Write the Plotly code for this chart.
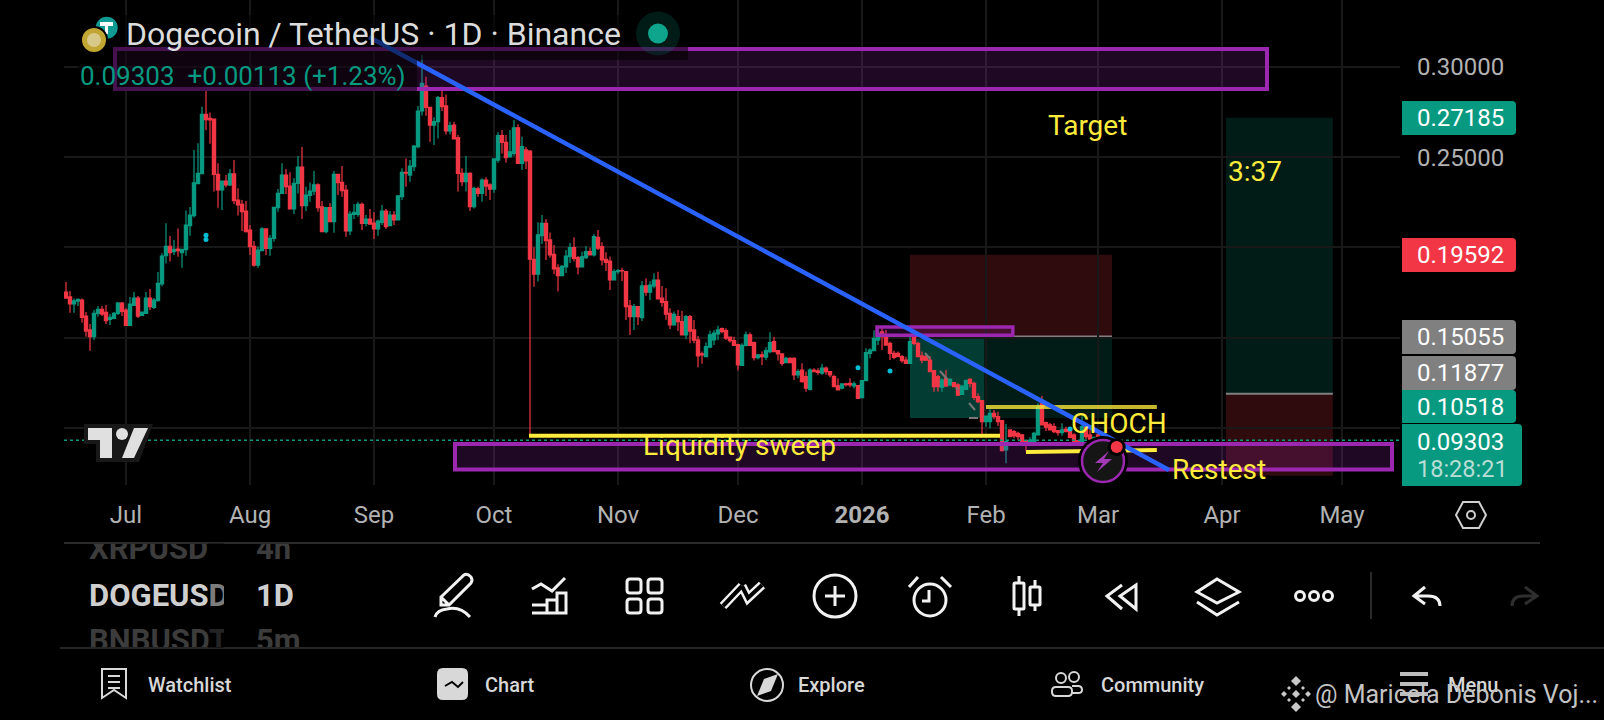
import pandas as pd
import plotly.graph_objects as go

# DOGEUSDT daily candles, first one is 16 Jun 2025
opens = [.1752,.1726,.1686,.1702,.1708,.1619,.1542,.1505,.1634,.1656,
         .1640,.1601,.1606,.1634,.1691,.1652,.1567,.1678,.1719,.1623,
         .1634,.1719,.1667,.1704,.1797,.1954,.2006,.1976,.1991,.1970,
         .1987,.2120,.2176,.2353,.2408,.2737,.2715,.2711,.2405,.2318,
         .2368,.2346,.2407,.2262,.2238,.2201,.2096,.2006,.1902,.1982,
         .2102,.1994,.2050,.2220,.2299,.2401,.2340,.2213,.2355,.2445,
         .2231,.2288,.2312,.2346,.2224,.2087,.2220,.2142,.2405,.2360,
         .2318,.2091,.2183,.2183,.2238,.2133,.2157,.2135,.2102,.2139,
         .2201,.2120,.2179,.2152,.2281,.2416,.2401,.2447,.2558,.2756,
         .2894,.2776,.2678,.2697,.2830,.2784,.2645,.2678,.2608,.2410,
         .2364,.2410,.2225,.2325,.2299,.2373,.2346,.2323,.2484,.2619,
         .2582,.2503,.2521,.2663,.2466,.2540,.2534,.1934,.1851,.2065,
         .2133,.2041,.1961,.1887,.1843,.1891,.1948,.1998,.1943,.1891,
         .1943,.1976,.1958,.2056,.2004,.1934,.1924,.1819,.1865,.1871,
         .1865,.1675,.1616,.1671,.1610,.1786,.1751,.1786,.1819,.1718,
         .1699,.1634,.1570,.1616,.1588,.1514,.1616,.1542,.1487,.1410,
         .1394,.1446,.1487,.1520,.1550,.1539,.1502,.1483,.1461,.1346,
         .1457,.1515,.1472,.1389,.1404,.1391,.1422,.1478,.1428,.1409,
         .1361,.1385,.1385,.1293,.1320,.1283,.1213,.1320,.1315,.1302,
         .1330,.1311,.1283,.1232,.1219,.1243,.1246,.1232,.1234,.1167,
         .1261,.1412,.1427,.1486,.1532,.1508,.1468,.1412,.1412,.1394,
         .1375,.1357,.1501,.1468,.1398,.1394,.1375,.1316,.1283,.1224,
         .1274,.1237,.1250,.1237,.1185,.1213,.1268,.1246,.1172,.1150,
         .1034,.1034,.1080,.1061,.1040,.0877,.0988,.0978,.0969,.0960,
         .0929,.0905,.0923,.0960,.1136,.1028,.1016,.1006,.0984,.0973,
         .0991,.0988,.0960,.0929,.0905,.1006,.0960,.0936,.0960,.0919]
highs = [.1808,.1758,.1717,.1717,.1717,.1641,.1575,.1652,.1675,.1675,
         .1680,.1630,.1641,.1697,.1697,.1663,.1725,.1752,.1730,.1641,
         .1752,.1769,.1719,.1863,.1967,.2133,.2063,.2041,.2105,.1991,
         .2205,.2224,.2540,.2577,.2780,.2874,.2748,.2711,.2466,.2368,
         .2401,.2434,.2484,.2327,.2262,.2257,.2124,.2035,.2004,.2111,
         .2105,.2068,.2225,.2323,.2466,.2434,.2416,.2383,.2506,.2556,
         .2336,.2360,.2423,.2355,.2257,.2221,.2246,.2423,.2405,.2451,
         .2346,.2201,.2240,.2253,.2248,.2179,.2213,.2194,.2155,.2235,
         .2213,.2201,.2201,.2290,.2438,.2493,.2484,.2567,.2784,.3066,
         .2946,.2776,.2721,.2839,.2891,.2848,.2697,.2697,.2623,.2438,
         .2506,.2416,.2336,.2336,.2383,.2388,.2355,.2490,.2638,.2650,
         .2623,.2650,.2706,.2682,.2613,.2556,.2540,.2000,.2139,.2180,
         .2157,.2083,.2013,.1906,.1902,.1986,.2024,.2056,.1952,.1976,
         .2006,.1998,.2074,.2096,.2028,.1973,.1949,.1878,.1880,.1887,
         .1865,.1708,.1686,.1675,.1814,.1828,.1814,.1856,.1865,.1786,
         .1773,.1662,.1644,.1653,.1647,.1625,.1625,.1597,.1509,.1422,
         .1472,.1537,.1542,.1565,.1555,.1552,.1505,.1505,.1465,.1468,
         .1533,.1528,.1478,.1404,.1422,.1446,.1529,.1505,.1431,.1413,
         .1394,.1391,.1391,.1324,.1357,.1311,.1330,.1330,.1330,.1354,
         .1339,.1311,.1293,.1274,.1246,.1250,.1274,.1256,.1237,.1265,
         .1441,.1440,.1541,.1541,.1560,.1542,.1477,.1427,.1422,.1403,
         .1394,.1505,.1510,.1477,.1422,.1403,.1397,.1316,.1292,.1274,
         .1320,.1274,.1250,.1246,.1237,.1268,.1274,.1255,.1191,.1154,
         .1065,.1102,.1098,.1089,.1040,.1021,.0991,.0988,.0978,.0965,
         .0932,.0947,.0978,.1136,.1176,.1034,.1028,.1025,.0988,.1025,
         .1006,.0997,.0969,.0932,.1062,.1015,.0988,.0947,.0978,.0935]
lows = [.1717,.1638,.1638,.1675,.1582,.1505,.1427,.1486,.1616,.1619,
        .1575,.1569,.1601,.1625,.1619,.1567,.1564,.1678,.1608,.1619,
        .1630,.1652,.1658,.1700,.1785,.1911,.1921,.1957,.1948,.1887,
        .1954,.2065,.2165,.2353,.2405,.2649,.2575,.2309,.2220,.2207,
        .2333,.2340,.2240,.2176,.2091,.2083,.1957,.1893,.1887,.1980,
        .1957,.1954,.2031,.2198,.2299,.2296,.2213,.2185,.2299,.2157,
        .2201,.2253,.2290,.2198,.2087,.2078,.2142,.2081,.2290,.2281,
        .2059,.2068,.2157,.2170,.2096,.2115,.2128,.2046,.2065,.2124,
        .2102,.2120,.2124,.2152,.2262,.2336,.2364,.2423,.2549,.2731,
        .2730,.2585,.2567,.2604,.2756,.2626,.2626,.2601,.2309,.2340,
        .2309,.2201,.2216,.2281,.2253,.2285,.2262,.2303,.2469,.2521,
        .2469,.2497,.2508,.2466,.2429,.2434,.0955,.1782,.1810,.2019,
        .1930,.1943,.1851,.1755,.1843,.1858,.1913,.1921,.1849,.1891,
        .1936,.1958,.1949,.1985,.1899,.1869,.1764,.1819,.1852,.1814,
        .1597,.1514,.1542,.1570,.1592,.1732,.1708,.1773,.1714,.1671,
        .1599,.1548,.1570,.1536,.1514,.1492,.1468,.1468,.1335,.1354,
        .1394,.1441,.1459,.1487,.1524,.1487,.1472,.1453,.1317,.1343,
        .1450,.1457,.1372,.1380,.1348,.1376,.1413,.1422,.1372,.1343,
        .1361,.1357,.1265,.1274,.1250,.1200,.1206,.1311,.1293,.1293,
        .1293,.1280,.1228,.1206,.1213,.1228,.1224,.1219,.1160,.1163,
        .1261,.1385,.1427,.1458,.1431,.1458,.1375,.1379,.1390,.1360,
        .1357,.1357,.1458,.1394,.1357,.1370,.1311,.1200,.1200,.1200,
        .1228,.1231,.1224,.1176,.1181,.1209,.1224,.1154,.1135,.0947,
        .1006,.0997,.1047,.1010,.0868,.0803,.0947,.0941,.0932,.0917,
        .0868,.0905,.0917,.0960,.1016,.0982,.0984,.0969,.0955,.0955,
        .0973,.0941,.0914,.0899,.0905,.0936,.0936,.0936,.0920,.0912]
closes = [.1719,.1686,.1704,.1712,.1612,.1536,.1505,.1634,.1656,.1630,
          .1593,.1612,.1634,.1691,.1645,.1567,.1686,.1719,.1619,.1641,
          .1719,.1671,.1708,.1800,.1952,.2006,.1970,.1989,.1982,.1989,
          .2124,.2179,.2357,.2410,.2737,.2708,.2706,.2405,.2318,.2368,
          .2346,.2407,.2259,.2235,.2198,.2087,.2004,.1902,.1985,.2102,
          .1994,.2050,.2222,.2299,.2401,.2336,.2213,.2355,.2445,.2231,
          .2290,.2312,.2346,.2220,.2087,.2220,.2142,.2405,.2359,.2314,
          .2091,.2185,.2194,.2238,.2133,.2157,.2129,.2102,.2146,.2201,
          .2115,.2179,.2152,.2285,.2416,.2412,.2451,.2562,.2756,.2909,
          .2776,.2678,.2697,.2830,.2780,.2645,.2675,.2601,.2410,.2364,
          .2410,.2225,.2327,.2299,.2373,.2340,.2323,.2490,.2619,.2582,
          .2497,.2530,.2663,.2466,.2558,.2479,.1934,.1851,.2069,.2133,
          .2037,.1958,.1880,.1843,.1895,.1952,.1998,.1939,.1891,.1948,
          .1976,.1958,.2059,.1995,.1930,.1917,.1819,.1865,.1871,.1869,
          .1671,.1616,.1671,.1616,.1786,.1751,.1791,.1819,.1714,.1695,
          .1629,.1570,.1629,.1588,.1514,.1616,.1536,.1486,.1398,.1404,
          .1450,.1515,.1524,.1542,.1533,.1496,.1483,.1457,.1348,.1457,
          .1515,.1457,.1389,.1404,.1394,.1428,.1472,.1422,.1409,.1357,
          .1385,.1361,.1293,.1311,.1256,.1219,.1320,.1311,.1306,.1330,
          .1311,.1293,.1228,.1210,.1243,.1239,.1237,.1243,.1163,.1261,
          .1416,.1431,.1495,.1523,.1505,.1458,.1412,.1390,.1394,.1372,
          .1357,.1477,.1468,.1394,.1375,.1375,.1311,.1228,.1228,.1264,
          .1231,.1268,.1228,.1181,.1231,.1261,.1246,.1168,.1144,.1034,
          .1065,.1080,.1061,.1034,.0873,.0923,.0951,.0955,.0951,.0923,
          .0905,.0932,.0969,.1113,.1016,.1003,.0988,.0978,.0973,.0988,
          .0979,.0947,.0914,.0905,.1006,.0951,.0936,.0947,.0941,.09303]
dates = pd.date_range("2025-06-16", periods=len(closes)).strftime("%Y-%m-%d").tolist()

month_ticks = ["2025-07-01", "2025-08-01", "2025-09-01", "2025-10-01", "2025-11-01", "2025-12-01",
               "2026-01-01", "2026-02-01", "2026-03-01", "2026-04-01", "2026-05-01"]
month_labels = ["Jul", "Aug", "Sep", "Oct", "Nov", "Dec", "<b>2026</b>", "Feb", "Mar", "Apr", "May"]
price_ticks = [.10, .15, .20, .25, .30]
price_labels = ["", "", "", "0.25000", "0.30000"]

signal_dates = ["2025-07-21", "2025-07-21", "2025-12-31", "2026-01-08", "2026-02-22"]
signal_prices = [.2067, .2043, .1332, .1315, .0993]

watch_names = ["XRPUSD", "DOGEUSDT", "BNBUSDT"]
watch_times = ["4h", "1D", "5m"]

TEAL = "#089981"
RED = "#f23645"
GRAY = "#808080"
PURPLE = "#9c27b0"
YELLOW = "#ffeb3b"
BLUE = "#2962ff"
ICON = "#f2f2f2"
NAV = "#d8d8d8"

shapes = []
notes = []


def data_rect(x0, x1, y0, y1, fill, line=None, width=0, layer="above"):
    shapes.append(dict(type="rect", xref="x", yref="y", x0=x0, x1=x1, y0=y0, y1=y1, layer=layer,
                       fillcolor=fill, line=dict(color=line, width=width)))


def data_line(x0, y0, x1, y1, color, width, dash="solid", layer="above"):
    shapes.append(dict(type="line", xref="x", yref="y", x0=x0, x1=x1, y0=y0, y1=y1, layer=layer,
                       line=dict(color=color, width=width, dash=dash)))


# everything below here is in screen pixels, on the x2/y2 overlay
def path(d, color=ICON, width=3, fill=None):
    shapes.append(dict(type="path", xref="x2", yref="y2", path=d, layer="above",
                       fillcolor=fill, line=dict(color=color, width=width)))


def circle(cx, cy, r, color=ICON, width=3, fill=None):
    shapes.append(dict(type="circle", xref="x2", yref="y2", x0=cx - r, x1=cx + r, y0=cy - r, y1=cy + r,
                       layer="above", fillcolor=fill, line=dict(color=color, width=width)))


def rrect(x0, y0, x1, y1, r):
    return (f"M{x0 + r},{y0} L{x1 - r},{y0} Q{x1},{y0} {x1},{y0 + r} L{x1},{y1 - r} Q{x1},{y1} {x1 - r},{y1} "
            f"L{x0 + r},{y1} Q{x0},{y1} {x0},{y1 - r} L{x0},{y0 + r} Q{x0},{y0} {x0 + r},{y0} Z")


def text(x, y, s, size, color, anchor="left", weight=None, family="Roboto"):
    notes.append(dict(xref="x2", yref="y2", x=x, y=y, text=s, showarrow=False, xanchor=anchor, yanchor="middle",
                      borderpad=0, borderwidth=0, font=dict(family=family, size=size, color=color, weight=weight)))


def badge(y0, y1, x1, fill):
    r = 4
    path(f"M1402,{y0} L{x1 - r},{y0} Q{x1},{y0} {x1},{y0 + r} L{x1},{y1 - r} Q{x1},{y1} {x1 - r},{y1} L1402,{y1} Z",
         color=fill, width=0, fill=fill)


# position tools, under the candles
data_rect("2026-01-13", "2026-03-04 12:00", .15055, .19592, "rgba(242,54,69,0.2)", layer="below")
data_rect("2026-01-13", "2026-03-04 12:00", .1054, .15055, "rgba(8,153,129,0.18)", layer="below")
data_rect("2026-01-13", "2026-01-31 12:00", .1054, .15055, "rgba(8,153,129,0.26)", layer="below")
data_rect("2026-04-02", "2026-04-28 17:00", .11877, .27185, "rgba(8,153,129,0.18)", layer="below")
data_rect("2026-04-02", "2026-04-28 17:00", .0733, .11877, "rgba(242,54,69,0.2)", layer="below")
data_line("2026-01-13", .15055, "2026-03-04 12:00", .15055, GRAY, 2, layer="below")
data_line("2026-04-02", .11877, "2026-04-28 17:00", .11877, GRAY, 2, layer="below")

# drawings on top of the candles
data_line("2025-06-15 12:00", .09303, "2026-05-15 12:00", .09303, TEAL, 1.5, dash="dot")
data_rect("2025-06-28 06:00", "2026-04-12 06:00", .2878, .3100, "rgba(156,39,176,0.2)", PURPLE, 4)
data_rect("2025-09-21 06:00", "2026-05-13 12:00", .0769, .0910, "rgba(156,39,176,0.2)", PURPLE, 4)
data_rect("2026-01-04 18:00", "2026-02-07 17:00", .1512, .1559, "rgba(156,39,176,0.2)", PURPLE, 3.5)
for seg in ["M925,353 L930,359", "M940,371 L947,379", "M956,387 L958,390", "M969,403 L975,410", "M969,418 L978,418"]:
    path(seg, color="#787878", width=2)
data_line("2025-10-09 18:00", .0955, "2026-02-04 12:00", .0955, YELLOW, 4)
data_line("2026-02-01", .1115, "2026-03-15 17:00", .1115, "rgba(255,235,59,0.78)", 4)
data_line("2026-02-11", .0866, "2026-03-15 17:00", .0877, YELLOW, 4)
data_line("2025-08-30 18:00", .3166, "2026-03-18 18:00", .0766, BLUE, 4.5)

# legend backdrop dims the drawings behind the title
path("M78,15 L688,15 L688,60 L417,60 L417,91 L78,91 Z", color="rgba(0,0,0,0)", width=0, fill="rgba(0,0,0,0.55)")

# coin logos and the status dot
circle(106.7, 27.7, 11, color="#0f9b94", width=0, fill="#0f9b94")
path("M100,22 L113,22 L113,26 L108,26 L108,34 L105,34 L105,26 L100,26 Z", color="#ffffff", width=0, fill="#ffffff")
circle(94, 40, 13, color="#000000", width=2, fill="#c2a633")
circle(94, 40, 7, color="#d8c88a", width=0, fill="#d8c88a")
circle(658, 33.5, 22, color="rgba(8,153,129,0.18)", width=0, fill="rgba(8,153,129,0.18)")
circle(658, 33.5, 10, color="#0ea58c", width=0, fill="#0ea58c")

# tradingview mark
path("M84,424 L153,424 L139,462 L96,462 L96,444 L84,444 Z", color="#181818", width=0, fill="#181818")
path("M88,428 L112,428 L112,458 L100,458 L100,440 L88,440 Z", color="#e0e0e0", width=0, fill="#e0e0e0")
circle(122, 434, 6, color="#e0e0e0", width=0, fill="#e0e0e0")
path("M134,428 L148,428 L134,458 L122,458 Z", color="#e0e0e0", width=0, fill="#e0e0e0")

# lightning button
circle(1103, 461, 25, color="#000000", width=0, fill="#000000")
circle(1103, 461, 21, color=PURPLE, width=2.5, fill="#151515")
path("M1109,451 L1095,463 L1103,463 L1097,472 L1112,459 L1104,459 Z", color="#a33ab5", width=0, fill="#a33ab5")
circle(1116.7, 447, 9, color="#000000", width=0, fill="#000000")
circle(1116.7, 447, 6, color=RED, width=0, fill=RED)

# price badges
badge(101, 135, 1516, TEAL)
badge(238, 272, 1516, RED)
badge(320, 354, 1516, GRAY)
badge(356, 390, 1516, GRAY)
badge(390, 423, 1516, TEAL)
badge(424, 486, 1522, TEAL)
for y, s in [(118, "0.27185"), (255, "0.19592"), (337, "0.15055"), (373, "0.11877"), (407, "0.10518"), (441.5, "0.09303")]:
    text(1417, y, s, 24, "#ffffff")
text(1417, 469, "18:28:21", 23.5, "#b6ded5")

# separators
path("M64,543 L1540,543", color="#2a2a2a", width=2)
path("M60,648 L1604,648", color="#262626", width=2)
path("M1371,572 L1371,619", color="#2a2a2a", width=2)

# watchlist fade
path("M208,543 L224,543 L224,648 L208,648 Z", color="rgba(0,0,0,0)", width=0, fill="rgba(0,0,0,0.4)")

# toolbar: pencil
path("M441,597 L464,575 Q467,573 471,577 Q473,580 471,583 L449,605 L441,605 Z M441,597 L449,605")
path("M435,617 Q437,610 447,609 Q460,606 470,617")
# indicators
path("M532,613 L566,613 L566,593 L557,593 L557,613 M557,600 L547,600 L547,613 M547,605 L532,605 Z")
path("M532,589 L541,584 L552,591 L565,578")
# layouts
for x0, y0 in [(627, 579), (648, 579), (627, 599), (648, 599)]:
    path(rrect(x0, y0, x0 + 14, y0 + 14, 3))
# line tools
path("M723,606 L742,586 M742,586 L748,598 L762,585", width=9)
path("M723,606 L742,586 M742,586 L748,598 L762,585", color="#000000", width=4)
# add
circle(835, 596, 21)
path("M825,596 L845,596 M835,586 L835,606")
# alarm
circle(930, 600, 16)
path("M929,590 L929,601 L922,601 M909,587 L918,577 M941,577 L951,587")
# candles
path(rrect(1014, 583, 1024, 609, 1))
path("M1019,576 L1019,583 M1019,609 L1019,616")
path(rrect(1030, 587, 1040, 605, 1))
path("M1035,580 L1035,587 M1035,605 L1035,611")
# replay
path("M1136,585 L1120,596 L1136,609 Z M1122,585 L1107,596 L1122,609")
# layers
path("M1217,579 L1239,592 L1217,603 L1197,592 Z M1197,602 L1217,615 L1239,602")
# more
for x in [1300, 1314, 1328]:
    circle(x, 596, 4.5)
# undo, redo
path("M1425,587 L1414,596 L1425,604 M1414,596 L1428,596 Q1440,596 1440,606")
path("M1525,587 L1537,596 L1525,604 M1537,596 L1523,596 Q1512,596 1512,606", color="#2e2e2e")
# settings hexagon
path("M1463,502 L1479,502 L1486,515 L1479,528 L1463,528 L1456,515 Z", color="#cfcfcf", width=2)
circle(1471, 515, 4, color="#cfcfcf", width=2)

# bottom nav icons
path("M102,669 L126,669 L126,698 L114,690 L102,698 Z M108,676 L120,676 M108,682 L120,682 M108,688 L120,688", color=NAV, width=2)
path(rrect(437, 668, 468, 700, 6), color=NAV, width=0, fill=NAV)
path("M445,686 L452,682 L458,687 L463,682", color="#000000", width=2)
circle(767, 685, 16, color=NAV, width=2)
path("M778,674 L771,691 L757,696 L764,679 Z", color=NAV, width=0, fill=NAV)
circle(1061, 678, 5, color=NAV, width=2)
circle(1074, 677, 5, color=NAV, width=2)
path(rrect(1052, 687, 1072, 696, 4), color=NAV, width=2)
path("M1072,686 L1078,686 Q1082,686 1082,690 Q1082,693 1078,693 L1072,693", color=NAV, width=2)
path("M1400,674 L1428,674 M1400,684 L1428,684 M1400,694 L1428,694", color="#bdbdbd", width=4)
for cx, cy, r in [(1296, 681, 5), (1296, 694, 4), (1296, 707, 5), (1284, 694, 3), (1308, 694, 3), (1289, 688, 2), (1303, 688, 2), (1289, 700, 2), (1303, 700, 2)]:
    path(f"M{cx},{cy - r} L{cx + r},{cy} L{cx},{cy + r} L{cx - r},{cy} Z", color="#c8c8c8", width=0, fill="#c8c8c8")

# texts
text(126, 34, "Dogecoin / TetherUS · 1D · Binance", 32, "#dcdcdc")
text(80, 76, "0.09303  +0.00113 (+1.23%)", 26, TEAL)
text(643, 445, "Liquidity sweep", 28, YELLOW)
text(1048, 125, "Target", 28, YELLOW)
text(1228, 171, "3:37", 28, YELLOW)
text(1071, 423, "CHOCH", 28, YELLOW)
text(1172, 469, "Restest", 28, YELLOW)
text(148, 685, "Watchlist", 20, NAV, weight=500)
text(485, 685, "Chart", 20, NAV, weight=500)
text(798, 685, "Explore", 20, NAV, weight=500)
text(1101, 685, "Community", 20, NAV, weight=500)
text(1448, 685, "Menu", 20, NAV, weight=500)
text(1315, 694, "@ Maricela Debonis Voj...", 25, "#c4c4c4")

fig = go.Figure()
fig.add_trace(go.Candlestick(x=dates, open=opens, high=highs, low=lows, close=closes, whiskerwidth=0,
                             increasing=dict(line=dict(color=TEAL, width=1.2), fillcolor=TEAL),
                             decreasing=dict(line=dict(color=RED, width=1.2), fillcolor=RED)))
fig.add_trace(go.Scatter(x=signal_dates, y=signal_prices, mode="markers",
                         marker=dict(color="#00bcd4", size=5)))
# the watchlist rows are clipped by their own small axes
fig.add_trace(go.Scatter(x=[89, 89, 89], y=[551, 598, 643], mode="text", text=watch_names, textposition="middle right",
                         textfont=dict(family="Roboto", size=31, color=["#3c3c3c", "#cfcfcf", "#3c3c3c"], weight="bold"),
                         xaxis="x3", yaxis="y3"))
fig.add_trace(go.Scatter(x=[256, 256, 256], y=[551, 598, 643], mode="text", text=watch_times, textposition="middle right",
                         textfont=dict(family="Roboto", size=31, color=["#3c3c3c", "#cfcfcf", "#3c3c3c"], weight="bold"),
                         xaxis="x4", yaxis="y3"))

hidden = dict(visible=False, fixedrange=True)
fig.update_layout(
    width=1604, height=720, margin=dict(l=0, r=0, t=0, b=0, pad=0),
    paper_bgcolor="#000000", plot_bgcolor="rgba(0,0,0,0)", showlegend=False, hovermode=False,
    font=dict(family="Roboto"), boxgap=0.1, boxgroupgap=0.1,
    xaxis=dict(domain=[64 / 1604, 1400 / 1604], type="date", range=["2025-06-15 12:00", "2026-05-15 12:00"],
               rangeslider=dict(visible=False), tickmode="array", tickvals=month_ticks, ticktext=month_labels,
               showgrid=True, gridcolor="#181818", gridwidth=1.5, zeroline=False, showline=False, ticks="",
               ticklabelstandoff=13, tickfont=dict(family="Roboto", size=24, color="#b2b2b2")),
    yaxis=dict(domain=[1 - 485 / 720, 1], range=[.06824, .33714], side="right", tickmode="array",
               tickvals=price_ticks, ticktext=price_labels, showgrid=True, gridcolor="#181818", gridwidth=1.5,
               zeroline=False, showline=False, ticks="", ticklabelstandoff=16,
               tickfont=dict(family="Roboto", size=24, color="#b2b2b2")),
    xaxis2=dict(domain=[0, 1], range=[0, 1604], anchor="y2", **hidden),
    yaxis2=dict(domain=[0, 1], range=[720, 0], anchor="x2", **hidden),
    xaxis3=dict(domain=[64 / 1604, 224 / 1604], range=[64, 224], anchor="y3", **hidden),
    xaxis4=dict(domain=[240 / 1604, 320 / 1604], range=[240, 320], anchor="y3", **hidden),
    yaxis3=dict(domain=[72 / 720, 177 / 720], range=[648, 543], anchor="x3", **hidden),
    shapes=shapes, annotations=notes,
)

fig.write_html("out.html", config=dict(displayModeBar=False),
               post_script="document.body.style.margin='0';document.body.style.background='#000';")
